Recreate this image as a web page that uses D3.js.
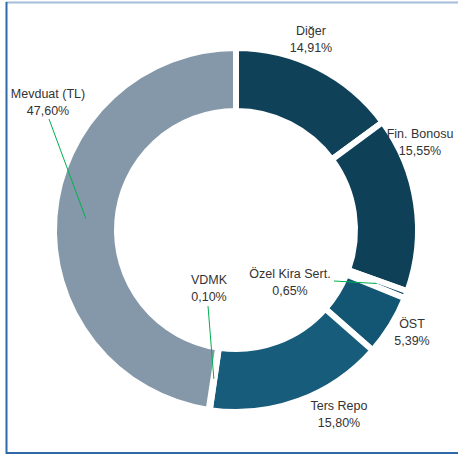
<!DOCTYPE html>
<html>
<head>
<meta charset="utf-8">
<script src="https://cdn.jsdelivr.net/npm/d3@7"></script>
<style>
  body { margin: 0; background: #fff; }
  svg text { font-family: "Liberation Sans", Arial, sans-serif; font-size: 12.5px; fill: #333; }
</style>
</head>
<body>
<script>
// data
var categories = ['Diğer', 'Fin. Bonosu', 'Özel Kira Sert.', 'ÖST', 'Ters Repo', 'VDMK', 'Mevduat (TL)'];
var shares = [14.91, 15.55, 0.65, 5.39, 15.80, 0.10, 47.60];
var valueLabels = ['14,91%', '15,55%', '0,65%', '5,39%', '15,80%', '0,10%', '47,60%'];
var colors = ['#0f4159', '#0e4058', '#114963', '#135674', '#175c7b', '#175a79', '#8598a9'];

// label layout: centre x, first baseline y, leader start (or null)
var labelPos = [
  {x: 311, y: 35, lead: null},
  {x: 420, y: 138, lead: null},
  {x: 290, y: 278, lead: [334, 281]},
  {x: 412, y: 328, lead: null},
  {x: 339, y: 410, lead: null},
  {x: 209, y: 284, lead: [208, 306]},
  {x: 48, y: 98, lead: [49, 119]}
];

var w = 458, h = 456;
var cx = 236, cy = 230;
var outerR = 182, innerR = 119;

var dataset = categories.map((c, i) => ({name: c, value: shares[i], label: valueLabels[i], i: i}));

var svg = d3.select('body').append('svg')
  .attr('width', w)
  .attr('height', h);

// frame
svg.append('line').attr('x1', 6).attr('x2', w).attr('y1', 2.5).attr('y2', 2.5)
  .attr('stroke', '#a3bcd8').attr('stroke-width', 2);
svg.append('line').attr('x1', 6.5).attr('x2', 6.5).attr('y1', 2).attr('y2', 454)
  .attr('stroke', '#2e6aa8').attr('stroke-width', 2);
svg.append('line').attr('x1', 6).attr('x2', w).attr('y1', 453).attr('y2', 453)
  .attr('stroke', '#2e6aa8').attr('stroke-width', 2);

var pie = d3.pie().sort(null).value(d => d.value);
var arc = d3.arc().innerRadius(innerR).outerRadius(outerR);
var mid = d3.arc().innerRadius((innerR + outerR) / 2).outerRadius((innerR + outerR) / 2);

var g = svg.append('g').attr('transform', `translate(${cx},${cy})`);

var arcs = pie(dataset);

g.selectAll('path')
  .data(arcs)
  .enter()
  .append('path')
  .attr('d', arc)
  .attr('fill', d => colors[d.data.i])
  .attr('stroke', '#fff')
  .attr('stroke-width', 6)
  .attr('stroke-linejoin', 'miter');

// leader lines
arcs.forEach(d => {
  var p = labelPos[d.data.i];
  if (!p.lead) return;
  var c = mid.centroid(d);
  svg.append('line')
    .attr('x1', p.lead[0]).attr('y1', p.lead[1])
    .attr('x2', cx + c[0]).attr('y2', cy + c[1])
    .attr('stroke', '#00b050')
    .attr('stroke-width', 1);
});

// labels
var labels = svg.selectAll('text.lbl')
  .data(dataset)
  .enter()
  .append('text')
  .attr('class', 'lbl')
  .attr('text-anchor', 'middle')
  .attr('x', d => labelPos[d.i].x)
  .attr('y', d => labelPos[d.i].y);

labels.append('tspan').text(d => d.name);
labels.append('tspan')
  .attr('x', d => labelPos[d.i].x)
  .attr('dy', 17)
  .text(d => d.label);
</script>
</body>
</html>
